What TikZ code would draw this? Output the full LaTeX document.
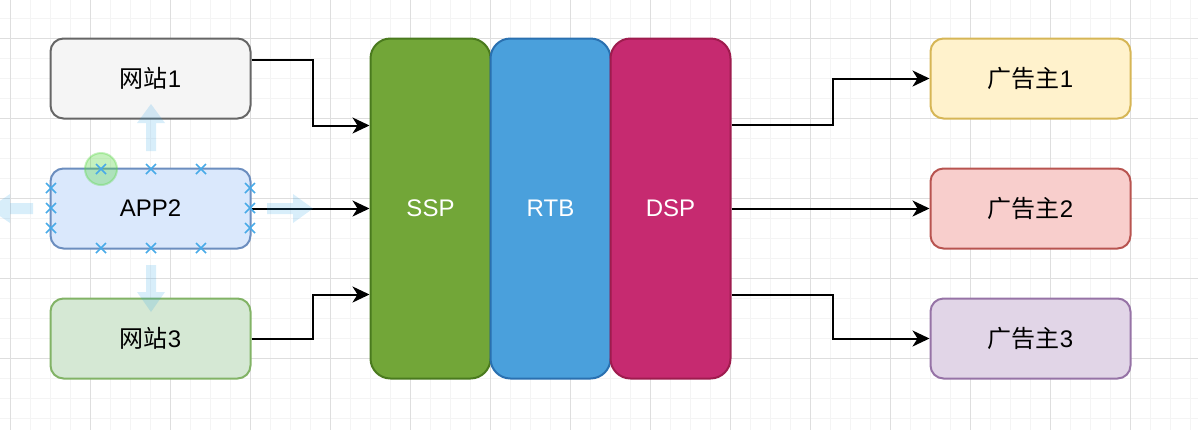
\documentclass[tikz,border=0pt]{standalone}
\usepackage{fontspec}
\setmainfont{Liberation Sans}
\newfontfamily\cjk{Noto Sans CJK SC}
\usetikzlibrary{
    arrows.meta,
    positioning
}
\definecolor{gridminor}{RGB}{244,244,244}
\definecolor{gridmajor}{RGB}{222,222,222}
\definecolor{grayfill}{RGB}{245,245,245}
\definecolor{graydraw}{RGB}{102,102,102}
\definecolor{bluefill}{RGB}{218,232,252}
\definecolor{bluedraw}{RGB}{108,142,191}
\definecolor{greenfill}{RGB}{213,232,212}
\definecolor{greendraw}{RGB}{130,179,102}
\definecolor{sspfill}{RGB}{114,166,56}
\definecolor{sspdraw}{RGB}{74,122,30}
\definecolor{rtbfill}{RGB}{74,160,220}
\definecolor{rtbdraw}{RGB}{42,112,176}
\definecolor{dspfill}{RGB}{198,42,112}
\definecolor{dspdraw}{RGB}{158,28,78}
\definecolor{yellowfill}{RGB}{255,242,204}
\definecolor{yellowdraw}{RGB}{214,182,86}
\definecolor{redfill}{RGB}{248,206,204}
\definecolor{reddraw}{RGB}{184,84,80}
\definecolor{purplefill}{RGB}{225,213,231}
\definecolor{purpledraw}{RGB}{150,115,166}
\definecolor{hoverblue}{RGB}{41,160,230}
\definecolor{pointblue}{RGB}{72,170,232}
\definecolor{hovergreen}{RGB}{90,215,70}
\tikzset{
    box/.style={rounded corners=6.5pt, line width=1pt, minimum width=100pt, minimum height=40pt, font=\fontsize{12}{14}\selectfont},
    bar/.style={rounded corners=10pt, line width=1pt, minimum width=60pt, minimum height=170pt, text=white, font=\fontsize{12}{14}\selectfont},
    conn/.style={line width=1pt, -{Stealth[length=8.5pt, width=8pt, inset=2.5pt]}},
    hover/.style={fill=hoverblue, fill opacity=0.18, draw=none},
    cross/.style={pointblue, line width=0.8pt}
}
\begin{document}
\begin{tikzpicture}[x=0.5pt, y=-0.5pt]
                        \useasboundingbox (0,0) rectangle (1198,430);
                        \clip (0,0) rectangle (1198,430);
                        % grid
                        \foreach \gx in {10,30,...,1190} \draw[gridminor, line width=0.5pt] (\gx,0) -- (\gx,430);
                        \foreach \gy in {18,38,...,418} \draw[gridminor, line width=0.5pt] (0,\gy) -- (1198,\gy);
                        \foreach \gx in {10,90,...,1190} \draw[gridmajor, line width=0.5pt] (\gx,0) -- (\gx,430);
                        \foreach \gy in {38,118,...,418} \draw[gridmajor, line width=0.5pt] (0,\gy) -- (1198,\gy);
                        % sources
                        \node[box, draw=graydraw, fill=grayfill] (w1) at (150.5,78.5) {{\cjk 网站}1};
                        \node[box, draw=bluedraw, fill=bluefill] (app2) at (150.5,208.5) {APP2};
                        \node[box, draw=greendraw, fill=greenfill] (w3) at (150.5,338.5) {{\cjk 网站}3};
                        % platforms
                        \node[bar, draw=sspdraw, fill=sspfill] (ssp) at (430.5,208.5) {SSP};
                        \node[bar, draw=rtbdraw, fill=rtbfill] (rtb) at (550.5,208.5) {RTB};
                        \node[bar, draw=dspdraw, fill=dspfill] (dsp) at (670.5,208.5) {DSP};
                        % advertisers
                        \node[box, draw=yellowdraw, fill=yellowfill] (a1) at (1030.5,78.5) {{\cjk 广告主}1};
                        \node[box, draw=reddraw, fill=redfill] (a2) at (1030.5,208.5) {{\cjk 广告主}2};
                        \node[box, draw=purpledraw, fill=purplefill] (a3) at (1030.5,338.5) {{\cjk 广告主}3};
                        % connectors
                        \draw[conn] ([yshift=9.5pt]w1.east) -- ++(30.5pt,0) |- ([yshift=41.5pt]ssp.west);
                        \draw[conn] (app2.east) -- (ssp.west);
                        \draw[conn] (w3.east) -- ++(30.5pt,0) |- ([yshift=-43pt]ssp.west);
                        \draw[conn] ([yshift=42pt]dsp.east) -- ++(50.5pt,0) |- (a1.west);
                        \draw[conn] (dsp.east) -- (a2.west);
                        \draw[conn] ([yshift=-43pt]dsp.east) -- ++(50.5pt,0) |- (a3.west);
                        % hover handles round APP2
                        \fill[hover] (146,151) -- (146,123) -- (137,123) -- (151,104) -- (165,123) -- (156,123) -- (156,151) -- cycle;
                        \fill[hover] (146,265) -- (146,292) -- (137,292) -- (151,312) -- (165,292) -- (156,292) -- (156,265) -- cycle;
                        \fill[hover] (267,203) -- (293,203) -- (293,194) -- (313,208.5) -- (293,223) -- (293,214) -- (267,214) -- cycle;
                        \fill[hover] (33,203) -- (10,203) -- (10,194) -- (-11,208.5) -- (10,223) -- (10,214) -- (33,214) -- cycle;
                        \filldraw[fill=hovergreen, fill opacity=0.35, draw=hovergreen, draw opacity=0.35, line width=1pt] (101,169) circle (16);
                        \foreach \px/\py in {101/169, 151/169, 201/169, 101/248, 151/248, 201/248, 51/188, 51/208, 51/228, 250/188, 250/208, 250/228}
                            \draw[cross] (\px-5,\py-5) -- (\px+5,\py+5) (\px-5,\py+5) -- (\px+5,\py-5);
                    \end{tikzpicture}
\end{document}
